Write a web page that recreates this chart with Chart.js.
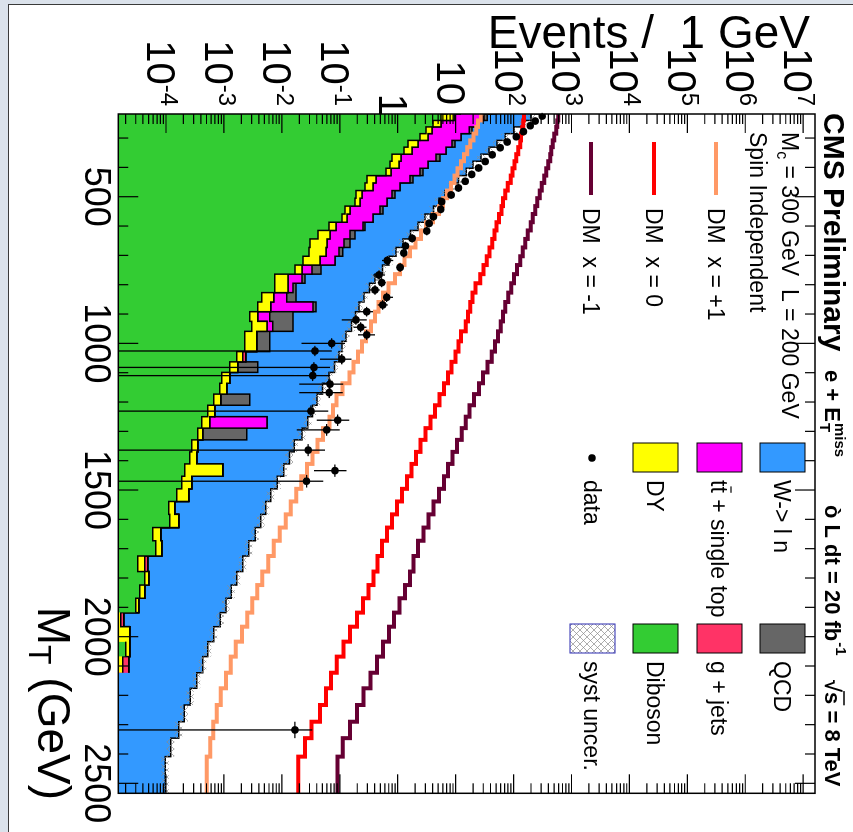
<!DOCTYPE html>
<html>
<head>
<meta charset="utf-8">
<title>CMS e + MET, M_T</title>
<script src="https://cdn.jsdelivr.net/npm/chart.js@4.4.1/dist/chart.umd.min.js"></script>
<style>
  html, body { margin: 0; padding: 0; }
  body { width: 853px; height: 832px; background: #dbe2eb; position: relative; overflow: hidden; }
  #page { position: absolute; left: 8px; top: 4px; right: 0; bottom: 0; background: #fff;
          border-left: 1.5px solid #3a3a3a; border-top: 1.5px solid #3a3a3a; }
  /* the plot is built upright and turned a quarter clockwise, like the page */
  #turn { position: absolute; left: 0; top: 0; width: 832px; height: 853px;
          transform-origin: 0 0; transform: translateX(853px) rotate(90deg); }
  #turn canvas { display: block; }
</style>
</head>
<body>
<div id="page"></div>
<div id="turn"><canvas id="mt" width="832" height="853"></canvas></div>
<script>
// M_T bin edges (GeV)
const binEdges = [218, 240, 262, 285, 308, 331, 355, 379, 403, 428, 453, 479, 505, 532, 559, 587, 615, 644, 673, 703,
  733, 764, 795, 827, 859, 892, 925, 959, 993, 1028, 1063, 1099, 1136, 1173, 1211, 1250, 1289, 1329, 1370, 1411,
  1453, 1496, 1539, 1583, 1628, 1673, 1725, 1778, 1824, 1869, 1918, 1966, 2017, 2068, 2123, 2176, 2233, 2290, 2346, 2409,
  2469, 2534];

// stack, events / GeV at the top of each layer (null = layer not visible in that bin)
const dibosonTop = [7.40, 5.60, 4.08, 3.08, 2.43, 1.51, 1.28, 0.797, 0.736, 0.628,
  0.295, 0.272, 0.190, 0.183, 0.123, 0.109, 0.0649, 0.0419, 0.0305, 0.0293,
  0.0231, 0.0168, 0.00757, 0.00757, 0.00451, 0.00385, 0.00280, 0.00303, 0.00229, 0.00229,
  0.00167, 0.00126, 0.000918, 0.000848, 0.000667, 0.000526, 0.000414, 0.000353, 0.000278, 0.000257,
  0.000210, 0.000187, 0.000153, 0.000111, 0.000116, 0.0000589, 0.0000663, 0.0000324, 0.0000428, 0.0000351,
  0.0000299, 0, 0.0000201, 0.0000201, 0, 0, 0, 0, 0, 0, 0];
const dyTop = [12.4, 9.40, 5.60, 3.91, 3.34, 2.24, 1.77, 1.14, 1.05, 0.766,
  0.421, 0.374, 0.241, 0.223, 0.150, 0.133, 0.0858, 0.0676, 0.0600, 0.0576,
  0.0454, 0.0222, 0.0127, 0.0127, 0.00726, 0.00645, 0.00385, 0.00551, 0.00370, 0.00370,
  0.00212, 0.00173, 0.00126, 0.00112, 0.000883, 0.000695, 0.000569, 0.000431, 0.000353, 0.000340,
  0.000955, 0.000278, 0.000247, 0.000141, 0.000166, 0.0000809, 0.0000842, 0.0000428, 0.0000501, 0.0000428,
  0.0000337, 0.0000165, 0.0000236, 0.0000236, 0.0000179, 0, 0, 0, 0, 0, 0];
const gammaJetsTop = [null, null, null, null, null, null, null, null, null, null,
  null, null, null, null, null, null, null, null, null, null,
  null, null, null, null, null, null, null, null, null, null,
  0.00239, null, null, null, null, null, null, null, null, null,
  null, null, null, null, null, null, null, 0.0000484, null, null,
  null, 0.0000186, null, null, 0.0000227, null, null, null, null, null, null];
const ttbarTop = [42.7, 31.0, 23.5, 17.1, 12.4, 8.68, 6.84, 4.59, 3.34, 2.43,
  1.63, 1.10, 0.797, 0.653, 0.494, 0.374, 0.251, 0.150, 0.118, 0.0966,
  0.0824, 0.0330, 0.0222, 0.0155, 0.0122, 0.0344, 0.00619, 0.00698, null, null,
  null, null, null, null, null, null, 0.00551, null, null, null,
  null, null, null, null, null, null, null, null, null, null,
  null, null, null, null, null, null, null, null, null, null, null];
const qcdTop = [52.1, 35.0, null, 19.2, null, 9.78, null, 5.39, null, 2.74,
  1.84, null, 0.898, null, 0.557, null, 0.272, 0.183, 0.150, 0.113,
  null, 0.0472, 0.0250, 0.0175, 0.0175, 0.0387, 0.0155, 0.0155, 0.00619, 0.00619,
  null, 0.00385, null, null, 0.00280, null, null, 0.00248, null, null,
  null, null, null, null, null, null, null, null, null, null,
  null, null, null, null, null, null, null, null, null, null, null];
const wTop = [277, 201, 147, 102, 71.6, 52.0, 37.8, 27.5, 20.0, 15.2,
  11.2, 8.68, 6.57, 5.17, 4.16, 2.96, 2.24, 1.66, 1.23, 0.935,
  0.708, 0.546, 0.405, 0.326, 0.262, 0.214, 0.186, 0.159, 0.128, 0.109,
  0.0966, 0.0808, 0.0649, 0.0501, 0.0403, 0.0337, 0.0281, 0.0222, 0.0164, 0.0135,
  0.0108, 0.00836, 0.00645, 0.00529, 0.00434, 0.00348, 0.00269, 0.00212, 0.00167, 0.00134,
  0.00108, 0.000865, 0.000668, 0.000526, 0.000431, 0.000340, 0.000262, 0.000206, 0.000166, 0.000121,
  0.0000969];
const systRelUnc = 0.15;

// signal (M_chi = 300 GeV, Lambda = 200 GeV), events / GeV
const dmPlus1 = [31.0, 27.5, 24.4, 22.6, 20.4, 17.8, 15.8, 14.0, 12.4, 10.8,
  9.59, 8.35, 7.11, 6.07, 5.18, 4.08, 3.08, 2.53, 2.03, 1.63,
  1.31, 1.10, 0.898, 0.693, 0.557, 0.466, 0.405, 0.345, 0.283, 0.241,
  0.206, 0.172, 0.147, 0.111, 0.0875, 0.0762, 0.0663, 0.0512, 0.0411, 0.0337,
  0.0271, 0.0217, 0.0178, 0.0143, 0.0117, 0.00923, 0.00727, 0.00584, 0.00460, 0.00377,
  0.00309, 0.00253, 0.00204, 0.00160, 0.00131, 0.00108, 0.000882, 0.000752, 0.000654, 0.000581,
  0.000506];
const dmZero = [159, 152, 147, 141, 135, 130, 120, 111, 104, 96,
  89, 79, 72, 66, 62, 56, 51, 47, 43, 38.6,
  34.3, 30.4, 26.5, 22.1, 19.6, 17.8, 16.4, 14.9, 12.4, 11.2,
  9.98, 8.51, 7.40, 6.31, 5.28, 4.42, 3.69, 3.03, 2.48, 2.07,
  1.73, 1.45, 1.19, 0.97, 0.80, 0.653, 0.535, 0.448, 0.382, 0.313,
  0.251, 0.198, 0.150, 0.116, 0.089, 0.0703, 0.0576, 0.0454, 0.0326, 0.0250,
  0.0191];
const dmMinus1 = [614, 590, 567, 545, 503, 474, 447, 430, 396, 366,
  338, 306, 283, 256, 236, 214, 198, 175, 159, 144,
  130, 115, 102, 91, 81, 72, 66, 60, 54, 48,
  42, 35.6, 29.8, 25.4, 20.8, 17.4, 14.9, 12.7, 10.6, 8.86,
  7.41, 6.31, 5.17, 4.16, 3.41, 2.79, 2.24, 1.87, 1.63, 1.34,
  1.07, 0.863, 0.708, 0.557, 0.439, 0.339, 0.256, 0.198, 0.150, 0.113,
  0.091];

// data points: M_T (GeV), events / GeV, error bar ends (null = hidden by the marker)
const dataMt = [225, 242, 258, 278, 295.5, 313.5, 333, 357, 380, 402, 424, 447.5, 470, 494, 517, 543, 568, 591, 617, 642,
  668, 692, 717.5, 741, 767, 793, 818, 843, 869, 892, 920, 945, 971, 1000, 1026, 1054, 1082, 1110, 1139, 1168,
  1231, 1262, 1295, 1364, 1434, 1470, 2318];
const dataVal = [312, 237, 194, 148, 111, 77.5, 58.7, 42.7, 32.3, 24.9, 19.0, 14.6, 11.2, 8.35, 5.76, 5.54, 4.12, 3.48, 3.17, 1.77,
  1.36, 1.27, 0.661, 1.10, 0.475, 0.529, 0.405, 0.646, 0.551, 0.291, 0.190, 0.229, 0.291, 0.0723, 0.0372, 0.108, 0.0357, 0.0340, 0.0676, 0.0657,
  0.0317, 0.0918, 0.0593, 0.0285, 0.0824, 0.0267, 0.0168];
const dataLo = [null, null, null, null, null, null, null, null, null, null, null, null, null, null, null, null, null, null, null, null,
  null, null, 0.538, 0.95, 0.379, 0.45, 0.33, 0.557, 0.45, 0.206, 0.108, 0.173, 0.206, 0.0219, 0, 0.0454, 0, 0, 0.0200, 0.0200,
  0, 0.0400, 0.0180, 0, 0.0357, 0, 0];
const dataHi = [null, null, null, null, null, null, null, null, null, null, null, null, null, null, null, null, null, null, null, null,
  null, null, 0.839, 1.26, 0.603, 0.62, 0.49, 0.830, 0.67, 0.374, 0.291, 0.290, 0.405, 0.1226, 0.0723, 0.160, 0.0676, 0.0676, 0.115, 0.112,
  0.0633, 0.146, 0.100, 0.0554, 0.131, 0.0519, 0.0335];

const FONT = '"Liberation Sans", Arial, Helvetica, sans-serif';
const font = (px, bold) => (bold ? 'bold ' : '') + px + 'px ' + FONT;

// stack layers: an empty layer falls back to the one below it
const layer = (own, below) => own.map((v, i) => (v === null ? below[i] : v));
const dyStack = layer(dyTop, dibosonTop);
const gjStack = layer(gammaJetsTop, dyStack);
const ttStack = layer(ttbarTop, gjStack);
const qcdStack = layer(qcdTop, ttStack);

// one point per bin edge; the last edge repeats the last bin so the step closes
const steps = vals => binEdges.map((e, i) => ({ x: e, y: vals[Math.min(i, vals.length - 1)] }));

function crossHatch() {
  const c = document.createElement('canvas');
  c.width = 7; c.height = 7;
  const g = c.getContext('2d');
  g.strokeStyle = '#8a8a8a';
  g.lineWidth = 0.7;
  g.beginPath();
  g.moveTo(0, 0); g.lineTo(7, 7);
  g.moveTo(7, 0); g.lineTo(0, 7);
  g.stroke();
  return g.createPattern(c, 'repeat');
}
const hatch = crossHatch();

function histo(label, vals, color, order) {
  return {
    label, data: steps(vals), stepped: 'after', order,
    borderColor: '#000', borderWidth: 1.5, backgroundColor: color,
    fill: 'start', pointRadius: 0
  };
}
function signal(label, vals, color) {
  return {
    label, data: steps(vals), stepped: 'after', order: 2,
    borderColor: color, borderWidth: 4, fill: false, pointRadius: 0
  };
}

const datasets = [
  histo('W-> l n', wTop, '#3399ff', 10),
  histo('QCD', qcdStack, '#666666', 9),
  histo('tt + single top', ttStack, '#ff00ff', 8),
  histo('g + jets', gjStack, '#ff3366', 7),
  histo('DY', dyStack, '#ffff00', 6),
  histo('Diboson', dibosonTop, '#33cc33', 5),
  { label: 'syst up', data: steps(wTop.map(v => v * (1 + systRelUnc))), stepped: 'after', order: 4,
    borderWidth: 0, pointRadius: 0, backgroundColor: hatch, fill: '+1' },
  { label: 'syst down', data: steps(wTop.map(v => v * (1 - systRelUnc))), stepped: 'after', order: 4,
    borderWidth: 0, pointRadius: 0, fill: false },
  signal('DM x = +1', dmPlus1, '#ff9966'),
  signal('DM x = 0', dmZero, '#ff0000'),
  signal('DM x = -1', dmMinus1, '#660033'),
  { type: 'scatter', label: 'data', order: 0, data: dataMt.map((m, i) => ({ x: m, y: dataVal[i] })),
    pointRadius: 3.8, pointBackgroundColor: '#000', pointBorderWidth: 0 }
];

// ROOT style frame, inner ticks and error bars
const rootAxes = {
  id: 'rootAxes',
  afterDatasetsDraw(chart) {
    const { ctx, chartArea: a, scales: { x, y } } = chart;
    ctx.save();
    ctx.strokeStyle = '#000';
    ctx.lineWidth = 1.2;
    ctx.beginPath();
    for (let m = 300; m <= 2500; m += 100) {
      const px = x.getPixelForValue(m);
      const len = m % 500 === 0 ? 20 : 10;
      ctx.moveTo(px, a.bottom); ctx.lineTo(px, a.bottom - len);
      ctx.moveTo(px, a.top); ctx.lineTo(px, a.top + len);
    }
    for (let k = -5; k <= 7; k++) {
      for (let d = 1; d <= 9; d++) {
        const v = d * Math.pow(10, k);
        if (v < y.min || v > y.max) continue;
        const py = y.getPixelForValue(v);
        const len = d === 1 ? 19 : 10;
        ctx.moveTo(a.left, py); ctx.lineTo(a.left + len, py);
        ctx.moveTo(a.right, py); ctx.lineTo(a.right - len, py);
      }
    }
    ctx.stroke();

    // data error bars
    ctx.lineWidth = 1.3;
    ctx.beginPath();
    dataMt.forEach((m, i) => {
      const px = x.getPixelForValue(m);
      const py = y.getPixelForValue(dataVal[i]);
      let b = 0;
      while (b < binEdges.length - 2 && binEdges[b + 1] <= m) b++;
      const half = (binEdges[b + 1] - binEdges[b]) / 2;
      ctx.moveTo(x.getPixelForValue(m - half), py);
      ctx.lineTo(x.getPixelForValue(m + half), py);
      if (dataLo[i] !== null) {
        ctx.moveTo(px, y.getPixelForValue(dataLo[i]));
        ctx.lineTo(px, y.getPixelForValue(dataHi[i]));
      }
    });
    ctx.stroke();

    ctx.lineWidth = 1.5;
    ctx.strokeRect(a.left, a.top, a.right - a.left, a.bottom - a.top);
    ctx.restore();
  }
};

function drawLabels(chart) {
  const { ctx, scales: { x, y } } = chart;
  ctx.save();
  ctx.fillStyle = '#000';
  ctx.textBaseline = 'alphabetic';

  // Events axis labels 10^k
  ctx.textAlign = 'right';
  for (let k = -4; k <= 7; k++) {
    const base = y.getPixelForValue(Math.pow(10, k)) + 19;
    if (k === 0) { ctx.font = font(40); ctx.fillText('1', 116, base); continue; }
    if (k === 1) { ctx.font = font(40); ctx.fillText('10', 105, base); continue; }
    const e = String(k);
    ctx.font = font(24);
    const ew = ctx.measureText(e).width;
    ctx.fillText(e, 106, base - 14);
    ctx.font = font(40);
    ctx.fillText('10', 106 - ew, base);
  }

  // M_T axis labels
  ctx.textAlign = 'center';
  ctx.font = font(36);
  for (let m = 500; m <= 2500; m += 500) ctx.fillText(String(m), x.getPixelForValue(m), 768);

  // axis titles
  ctx.save();
  ctx.translate(48, 43);
  ctx.rotate(-Math.PI / 2);
  ctx.textAlign = 'right';
  ctx.font = font(46);
  ctx.fillText('Events /  1 GeV', 0, 0);
  ctx.restore();

  ctx.textAlign = 'left';
  ctx.font = font(46);
  const wM = ctx.measureText('M').width;
  const wRest = ctx.measureText(' (GeV)').width;
  ctx.font = font(32);
  const wT = ctx.measureText('T').width;
  let u = 800 - wM - wT - wRest;
  ctx.font = font(46); ctx.fillText('M', u, 815); u += wM;
  ctx.font = font(32); ctx.fillText('T', u, 824); u += wT;
  ctx.font = font(46); ctx.fillText(' (GeV)', u, 815);

  // header line above the frame
  ctx.font = font(30, true);
  ctx.fillText('CMS Preliminary', 113, 29);
  ctx.font = font(22, true);
  ctx.fillText('e + E', 370, 28);
  let w = ctx.measureText('e + E').width;
  ctx.font = font(15, true);
  ctx.fillText('miss', 370 + w + 1, 18);
  ctx.fillText('T', 370 + w + 1, 33);
  ctx.font = font(22, true);
  ctx.fillText('\u00f2 L dt = 20 fb', 505, 28);
  w = ctx.measureText('\u00f2 L dt = 20 fb').width;
  ctx.font = font(15, true);
  ctx.fillText('-1', 505 + w + 1, 17);
  ctx.font = font(22, true);
  ctx.fillText('\u221as = 8 TeV', 680, 28);
  const wr = ctx.measureText('\u221a').width;
  const ws = ctx.measureText('s').width;
  ctx.lineWidth = 1.5;
  ctx.beginPath();
  ctx.moveTo(680 + wr - 1, 9); ctx.lineTo(680 + wr + ws + 1, 9);
  ctx.stroke();

  // signal legend
  ctx.font = font(23);
  ctx.fillText('M', 132, 71);
  w = ctx.measureText('M').width;
  ctx.font = font(16);
  ctx.fillText('c', 132 + w, 76);
  w += ctx.measureText('c').width;
  ctx.font = font(23);
  ctx.fillText(' = 300 GeV  L = 200 GeV', 132 + w, 71);
  ctx.fillText('Spin Independent', 132, 103);
  [['DM  x = +1', '#ff9966', 137], ['DM  x = 0', '#ff0000', 199], ['DM  x = -1', '#660033', 262]].forEach(([t, c, v]) => {
    ctx.strokeStyle = c;
    ctx.lineWidth = 4;
    ctx.beginPath(); ctx.moveTo(142, v); ctx.lineTo(195, v); ctx.stroke();
    ctx.fillText(t, 208, v + 8);
  });

  // background legend
  const rows = [48, 111, 175, 238];
  const boxes = [
    [443, rows[0], '#3399ff', 'W-> l n'], [443, rows[1], '#ff00ff', 'tt + single top'], [443, rows[2], '#ffff00', 'DY'],
    [624, rows[0], '#666666', 'QCD'], [624, rows[1], '#ff3366', 'g + jets'], [624, rows[2], '#33cc33', 'Diboson']
  ];
  ctx.strokeStyle = '#000';
  ctx.lineWidth = 1;
  boxes.forEach(([bu, bv, c, t]) => {
    ctx.fillStyle = c;
    ctx.fillRect(bu, bv, 29, 45);
    ctx.strokeRect(bu, bv, 29, 45);
    ctx.fillStyle = '#000';
    ctx.fillText(t, bu + 37, bv + 30.5);
  });
  // bar over the second t
  const wt = ctx.measureText('t').width;
  ctx.lineWidth = 1.2;
  ctx.beginPath();
  ctx.moveTo(480 + wt, rows[1] + 11); ctx.lineTo(480 + 2 * wt, rows[1] + 11);
  ctx.stroke();
  // data and syst entries
  ctx.beginPath();
  ctx.arc(458, rows[3] + 23, 3.8, 0, 2 * Math.PI);
  ctx.fill();
  ctx.fillText('data', 480, rows[3] + 30.5);
  ctx.fillStyle = hatch;
  ctx.fillRect(624, rows[3], 29, 45);
  ctx.strokeStyle = '#2b2bb0';
  ctx.lineWidth = 1;
  ctx.strokeRect(624, rows[3], 29, 45);
  ctx.fillStyle = '#000';
  ctx.fillText('syst uncer.', 661, rows[3] + 30.5);
  ctx.restore();
}

new Chart(document.getElementById('mt'), {
  type: 'line',
  data: { datasets },
  options: {
    responsive: false,
    animation: false,
    devicePixelRatio: 1,
    layout: { padding: { left: 114, top: 38, right: 38.7, bottom: 118.3 } },
    scales: {
      x: { type: 'linear', min: 218, max: 2534, display: false },
      y: { type: 'logarithmic', min: 1.5e-5, max: 1.6e7, display: false }
    },
    plugins: { legend: { display: false }, tooltip: { enabled: false } }
  },
  plugins: [rootAxes, { id: 'labels', afterDraw: drawLabels }]
});
</script>
</body>
</html>
